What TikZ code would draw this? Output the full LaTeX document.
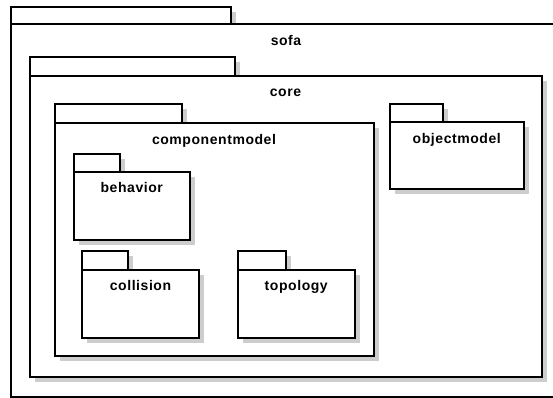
\documentclass[tikz,border=0pt]{standalone}
\usepackage{fontspec}
\setmainfont{Liberation Sans}[LetterSpace=4]
\definecolor{shadowgray}{RGB}{205,205,205}
\newcommand\umlpkg[8]{% #1 name, #2 left, #3 tab top, #4 tab right, #5 body top, #6 right, #7 bottom, #8 label
  \fill[pkgshadow] (#2+5,#3+5) rectangle (#4+5,#5+5);
  \fill[pkgshadow] (#2+5,#5+5) rectangle (#6+5,#7+5);
  \draw[pkgline] (#2,#3) rectangle (#4,#5);
  \draw[pkgline] (#2,#5) rectangle (#6,#7);
  \node[pkglabel] (#1) at ({(#2+#6)/2},{#5+21}) {#8};
}
\begin{document}
\begin{tikzpicture}[x=1pt,y=-1pt,
  pkgline/.style={draw=black,line width=2pt,fill=white},
  pkgshadow/.style={fill=shadowgray,draw=none},
  pkglabel/.style={anchor=base,font=\fontsize{14}{16}\selectfont\bfseries,inner sep=0pt}]
\useasboundingbox (0,0) rectangle (553,398);
\clip (0,0) rectangle (553,398);
\fill[white] (0,0) rectangle (553,398);
\umlpkg{sofa}{11}{7}{231}{24.5}{561}{396.5}{sofa}
\umlpkg{core}{29.5}{57.5}{234.5}{76}{541.5}{376.5}{core}
\umlpkg{componentmodel}{54.5}{104.5}{181.5}{123}{373.5}{355.5}{componentmodel}
\umlpkg{objectmodel}{389.5}{104}{442.5}{122.5}{524}{189}{objectmodel}
\umlpkg{behavior}{73.5}{153.5}{120}{171.5}{190}{239.5}{behavior}
\umlpkg{collision}{82}{251}{128}{269.5}{199}{337.5}{collision}
\umlpkg{topology}{237.5}{251}{285.5}{269.5}{355}{337.5}{topology}
\end{tikzpicture}
\end{document}
